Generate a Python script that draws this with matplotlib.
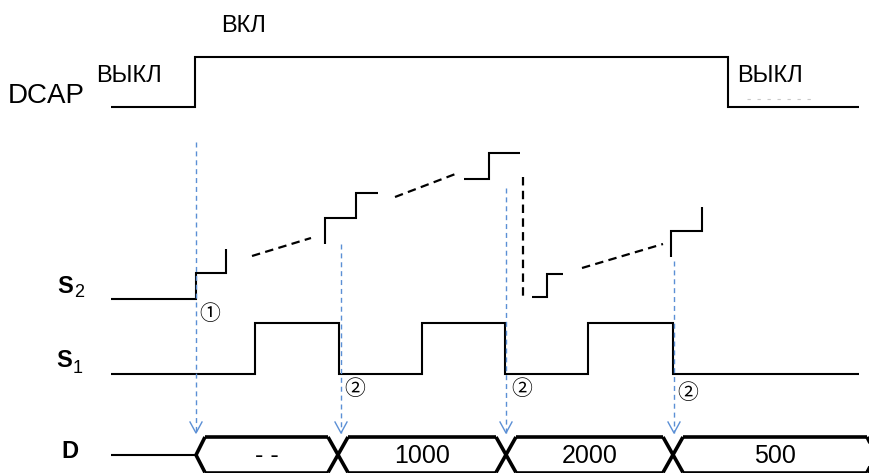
import matplotlib.pyplot as plt

# --- data (pixel-space timing diagram) ---
t_start, t_end = 111, 859

# DCAP: off -> on -> off
dcap_on, dcap_off = 195, 728
dcap_low, dcap_high = 107, 57

# S1 square pulses
s1_rise = [255, 422, 588]
s1_fall = [339, 505, 673]
s1_low, s1_high = 374, 323

# S2 staircase pieces (solid) and the dashed "..." continuations
s2_solid = [
    ([t_start, 196, 196, 226, 226], [299, 299, 273, 273, 249]),
    ([325, 325, 356, 356, 378], [244, 218, 218, 193, 193]),
    ([464, 489, 489, 520], [179, 179, 153, 153]),
    ([532, 547, 547, 563], [297, 297, 274, 274]),
    ([671, 671, 702, 702], [257, 231, 231, 207]),
]
s2_dashed = [
    ([252, 311], [256, 238]),
    ([395, 458], [197, 173]),
    ([523, 523], [177, 298]),
    ([582, 663], [268, 244]),
]

# blue marker lines: x, top y
marker_x = [196, 341, 506, 674]
marker_top = [142, 244, 188, 261]
arrow_tip = 433

# circled labels
circ_labels = ['①', '②', '②', '②']
circ_x = [210, 355, 522, 688]
circ_y = [314, 389, 389, 393]

# D bus
bus_open = 196
bus_cross = [338, 506, 673]
bus_close = 876
bus_values = ['- -', '1000', '2000', '500']
bus_mid, bus_top, bus_bot = 455, 437, 472.5

fig = plt.figure(figsize=(8.7, 4.73), dpi=100)
ax = fig.add_axes([0, 0, 1, 1])
ax.set_xlim(0, 870)
ax.set_ylim(473, 0)
ax.axis('off')

font = 'Liberation Sans'
blk = dict(color='black', lw=1.5, solid_capstyle='butt', solid_joinstyle='miter')

# DCAP
ax.plot([t_start, dcap_on, dcap_on, dcap_off, dcap_off, t_end],
        [dcap_low, dcap_low, dcap_high, dcap_high, dcap_low, dcap_low], **blk)
ax.plot([747, 817], [99, 99], color='#c8c8c8', lw=0.8, dashes=(3, 6))

# S2
for xs, ys in s2_solid:
    ax.plot(xs, ys, **blk)
for xs, ys in s2_dashed:
    ax.plot(xs, ys, color='black', lw=1.6, dashes=(3.8, 2.4))

# S1
xs, ys = [t_start], [s1_low]
for r, f in zip(s1_rise, s1_fall):
    xs += [r, r, f, f]
    ys += [s1_low, s1_high, s1_high, s1_low]
xs.append(t_end)
ys.append(s1_low)
ax.plot(xs, ys, **blk)

# blue dashed markers with open arrowheads
blue = '#5B8FD5'
for x, top in zip(marker_x, marker_top):
    ax.plot([x, x], [top, arrow_tip], color=blue, lw=1.0, dashes=(3.6, 2.8))
    ax.plot([x - 6, x, x + 6], [arrow_tip - 11, arrow_tip, arrow_tip - 11],
            color=blue, lw=1.0)

for s, x, y in zip(circ_labels, circ_x, circ_y):
    ax.text(x, y, s, ha='center', va='center', fontsize=15,
            family=['Noto Sans CJK JP', 'DejaVu Sans'])

# D bus
bw = dict(color='black', lw=2.6, solid_capstyle='butt', solid_joinstyle='miter')
ax.plot([t_start, bus_open], [bus_mid, bus_mid], **blk)
edges = [bus_open] + bus_cross + [bus_close]
hw = [9, 10, 10, 10, 9]
for i in range(len(edges) - 1):
    a = edges[i] + hw[i]
    b = edges[i + 1] - hw[i + 1]
    ax.plot([a, b], [bus_top, bus_top], **bw)
    ax.plot([a, b], [bus_bot, bus_bot], **bw)
    ax.text((a + b) / 2, bus_mid + 1, bus_values[i], ha='center', va='center',
            fontsize=18, family=font)
ax.plot([bus_open, bus_open + hw[0]], [bus_mid, bus_top], **bw)
ax.plot([bus_open, bus_open + hw[0]], [bus_mid, bus_bot], **bw)
for c in bus_cross:
    ax.plot([c - 10, c + 10], [bus_top, bus_bot], **bw)
    ax.plot([c - 10, c + 10], [bus_bot, bus_top], **bw)
ax.plot([bus_close - hw[-1], bus_close], [bus_top, bus_mid], **bw)
ax.plot([bus_close - hw[-1], bus_close], [bus_bot, bus_mid], **bw)

# labels
ax.text(8, 103, 'DCAP', fontsize=20, family=font, va='baseline')
ax.text(96, 82, 'ВЫКЛ', fontsize=17, family=font, va='baseline')
ax.text(221, 32, 'ВКЛ', fontsize=17, family=font, va='baseline')
ax.text(737, 82, 'ВЫКЛ', fontsize=17, family=font, va='baseline')

ax.text(57, 293, 'S', fontsize=17, family=font, weight='bold', va='baseline')
ax.text(74, 297, '2', fontsize=13, family=font, va='baseline')
ax.text(56, 367, 'S', fontsize=17, family=font, weight='bold', va='baseline')
ax.text(73, 373, '1', fontsize=13, family=font, va='baseline')
ax.text(61, 458, 'D', fontsize=17, family=font, weight='bold', va='baseline')

fig.savefig('out.png', dpi=100)
